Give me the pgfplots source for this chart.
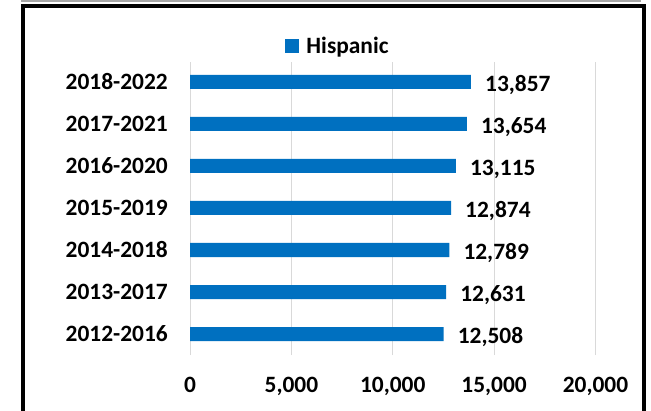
\documentclass[border=0pt]{standalone}
\usepackage{fontspec}
\setmainfont{Carlito}
\usepackage{pgfplots}
\pgfplotsset{compat=1.18}
\definecolor{barblue}{HTML}{0070C0}
\definecolor{gridgray}{HTML}{D9D9D9}
\pgfkeys{/pgf/number format/.cd, assume math mode=true, 1000 sep={,}}
\newcommand{\chartfont}{\fontsize{23.5}{28}\selectfont\bfseries}

\begin{document}
\begin{tikzpicture}[x=1bp,y=1bp]
\useasboundingbox (0,0) rectangle (651,410);
% frame
\draw[color=black!35, line width=1.5bp] (21,409.2) -- (641,409.2);
\draw[line width=4bp] (23,-20) -- (23,403.5) -- (644,403.5) -- (644,-20);

\begin{axis}[
  at={(190bp,55bp)}, anchor=south west,
  scale only axis, width=405.5bp, height=293bp,
  xbar, bar width=14bp,
  xmin=0, xmax=20000,
  ymin=-0.5, ymax=6.476,
  ytick={0,...,6},
  yticklabels={2012-2016,2013-2017,2014-2018,2015-2019,2016-2020,2017-2021,2018-2022},
  xtick={0,5000,10000,15000,20000},
  scaled x ticks=false,
  axis line style={draw=none},
  major tick length=0pt,
  xmajorgrids, grid style={gridgray, line width=1bp},
  tick label style={font=\chartfont, inner sep=0pt},
  xticklabel style={anchor=base, yshift=-37.5bp},
  yticklabel style={anchor=east, xshift=-22bp},
  nodes near coords,
  nodes near coords style={font=\chartfont, anchor=base west, inner sep=0pt,
    xshift=14bp, yshift=-9.1bp, text=black},
  legend style={at={(0.365,1.055)}, anchor=center, draw=none, fill=none,
    font=\chartfont, inner sep=0pt},
  legend image code/.code={\fill[barblue] (0bp,-7bp) rectangle (14bp,7bp);
    \path (19bp,0bp);},
]
\addplot[fill=barblue, draw=none] coordinates {
  (12508,0) (12631,1) (12789,2) (12874,3) (13115,4) (13654,5) (13857,6)
};
\legend{Hispanic}
\end{axis}
\end{tikzpicture}
\end{document}
